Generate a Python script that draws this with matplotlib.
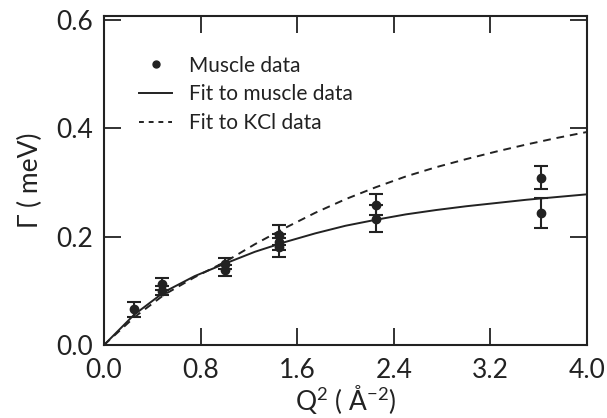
import matplotlib
matplotlib.use("Agg")
import matplotlib.pyplot as plt
from matplotlib.lines import Line2D

# Muscle data (Q^2, Gamma, error)
q2_data = [0.25, 0.48, 0.48, 1.0, 1.0, 1.45, 1.45, 1.45, 2.25, 2.25, 3.62, 3.62]
gamma_data = [0.066, 0.113, 0.100, 0.150, 0.138, 0.203, 0.190, 0.180, 0.259, 0.233, 0.309, 0.243]
gamma_err = [0.014, 0.011, 0.008, 0.010, 0.010, 0.018, 0.014, 0.018, 0.020, 0.025, 0.022, 0.028]

# Fit curves
q2_fit = [0.0, 0.25, 0.5, 0.75, 1.0, 1.25, 1.5, 1.75, 2.0, 2.25, 2.5, 2.75, 3.0,
          3.25, 3.5, 3.75, 4.0]
gamma_fit_muscle = [0.0, 0.056, 0.098, 0.127, 0.150, 0.172, 0.190, 0.206, 0.220,
                    0.231, 0.241, 0.249, 0.256, 0.262, 0.268, 0.273, 0.278]
gamma_fit_kcl = [0.0, 0.051, 0.093, 0.125, 0.153, 0.186, 0.216, 0.244, 0.269,
                 0.291, 0.311, 0.328, 0.343, 0.357, 0.370, 0.382, 0.393]

x_ticks = [0.0, 0.8, 1.6, 2.4, 3.2, 4.0]
y_ticks = [0.0, 0.2, 0.4, 0.6]

plt.rcParams['font.family'] = ['Lato', 'DejaVu Sans']
plt.rcParams['font.weight'] = 'normal'
plt.rcParams['mathtext.fontset'] = 'custom'
plt.rcParams['mathtext.rm'] = 'Lato'
plt.rcParams['mathtext.default'] = 'rm'

ink = '#222222'
fig = plt.figure(figsize=(6.07, 4.18), dpi=100)
ax = fig.add_axes([104/607, 1-345/418, (587-104)/607, (345-16)/418])

lw = 1.4
ax.errorbar(q2_data, gamma_data, yerr=gamma_err, fmt='o', color=ink,
            ms=6, elinewidth=1.5, capsize=5, capthick=1.5)
ax.plot(q2_fit, gamma_fit_muscle, '-', color=ink, lw=lw)
ax.plot(q2_fit, gamma_fit_kcl, '--', color=ink, lw=lw, dashes=(4, 3))

ax.set_xlim(0, 4.0)
ax.set_ylim(0, 0.607)
ax.set_xticks(x_ticks)
ax.set_yticks(y_ticks)
ax.set_xticklabels([f"{v:.1f}" for v in x_ticks])
ax.set_yticklabels([f"{v:.1f}" for v in y_ticks])
ax.tick_params(direction='in', length=12, width=1.3, labelsize=19, colors=ink,
               top=True, right=True)
ax.tick_params(axis='x', pad=9)
ax.tick_params(axis='y', pad=8)
for s in ax.spines.values():
    s.set_linewidth(1.5)
    s.set_color(ink)

ax.set_xlabel('Q$^2$ ( $\\mathrm{\\AA}^{-2}$)', fontsize=19, color=ink, labelpad=0)
ax.set_ylabel('Γ ( meV)', fontsize=19, color=ink, labelpad=9)

h = [Line2D([], [], marker='o', ls='none', color=ink, ms=5),
     Line2D([], [], ls='-', color=ink, lw=lw),
     Line2D([], [], ls='--', color=ink, lw=lw, dashes=(2.5, 2.5))]
leg = ax.legend(h, ['Muscle data', 'Fit to muscle data', 'Fit to KCl data'],
                loc='upper left', bbox_to_anchor=(0.055, 0.905), frameon=False,
                fontsize=15, handlelength=1.6, handletextpad=0.8, labelspacing=0.42,
                borderaxespad=0.0)
for t in leg.get_texts():
    t.set_color(ink)

fig.savefig('out.png', dpi=100)
